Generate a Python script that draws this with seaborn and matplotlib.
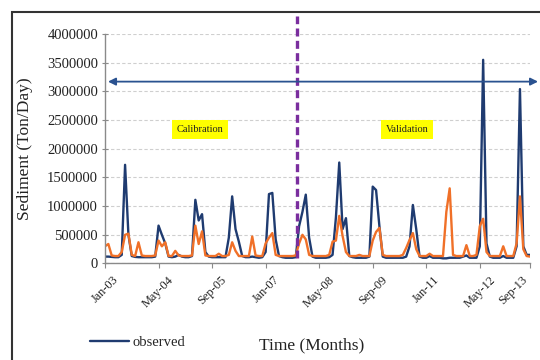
import numpy as np
import pandas as pd
import matplotlib
matplotlib.use("Agg")
import matplotlib.pyplot as plt
import seaborn as sns
from matplotlib.patches import Rectangle

# ---- data (Ton/Day), one value per month starting Jan-03 ----
observed = [
    120, 120, 115, 110, 110, 150, 1720, 500, 130, 115, 110, 110,        # 2003
    110, 110, 110, 120, 660, 500, 350, 120, 110, 120, 150, 120,         # 2004
    110, 110, 130, 1110, 750, 860, 200, 120, 110, 110, 110, 110,        # 2005
    110, 450, 1170, 600, 380, 130, 110, 110, 120, 110, 100, 110,        # 2006
    200, 1210, 1230, 420, 130, 110, 100, 100, 100, 110, 650, 900,       # 2007
    1200, 450, 120, 100, 100, 100, 100, 110, 150, 800, 1760, 600,       # 2008
    790, 130, 110, 100, 100, 100, 100, 120, 1340, 1280, 650, 120,       # 2009
    100, 100, 100, 100, 100, 100, 120, 300, 1020, 600, 120, 100,        # 2010
    100, 130, 100, 100, 100, 90, 90, 100, 100, 100, 100, 120,           # 2011
    140, 100, 100, 100, 300, 3550, 350, 120, 100, 100, 100, 130,        # 2012
    100, 100, 100, 300, 3040, 300, 150, 150,                            # 2013
]
observed = [v * 1000 for v in observed]

simulated = [
    300, 340, 140, 130, 130, 200, 500, 520, 150, 130, 370, 140,         # 2003
    130, 130, 130, 140, 400, 300, 370, 130, 130, 220, 140, 130,         # 2004
    130, 130, 140, 660, 340, 560, 140, 130, 130, 130, 170, 130,         # 2005
    130, 150, 370, 220, 130, 130, 130, 130, 470, 140, 130, 130,         # 2006
    350, 450, 530, 150, 130, 130, 130, 130, 130, 140, 350, 500,         # 2007
    420, 150, 130, 130, 130, 130, 130, 150, 380, 400, 830, 480,         # 2008
    200, 130, 130, 130, 150, 130, 130, 130, 400, 550, 620, 150,         # 2009
    130, 130, 130, 130, 130, 150, 270, 410, 530, 250, 130, 130,         # 2010
    130, 170, 130, 130, 130, 130, 900, 1310, 150, 130, 130, 130,        # 2011
    320, 130, 130, 150, 650, 780, 200, 130, 130, 130, 130, 300,         # 2012
    130, 130, 130, 350, 1170, 250, 130, 120,                            # 2013
]
simulated = [v * 1000 for v in simulated]

tick_labels = ["Jan-03", "May-04", "Sep-05", "Jan-07", "May-08",
               "Sep-09", "Jan-11", "May-12", "Sep-13"]
tick_months = [0, 16, 32, 48, 64, 80, 96, 112, 127]
y_ticks = [0, 500000, 1000000, 1500000, 2000000, 2500000,
           3000000, 3500000, 4000000]
region_labels = ["Calibration", "Validation"]
region_label_months = [28.5, 90.3]
region_label_level = 2335000
split_month = 57.3
arrow_level = 3170000

# ---- style ----
sns.set_style("white")
plt.rcParams["font.family"] = ["Liberation Serif", "DejaVu Serif"]

OBS_C = "#1F3B70"
SIM_C = "#F07028"
AX_C = "#8A8A8A"

fig = plt.figure(figsize=(5.4, 3.6), dpi=100)
ax = fig.add_axes([0.19444, 0.26806, 0.78704, 0.6375])

month = np.arange(len(observed))
df = pd.DataFrame({
    "month": np.concatenate([month, np.arange(len(simulated))]),
    "sediment": observed + simulated,
    "series": ["observed"] * len(observed) + ["simulated"] * len(simulated),
})
sns.lineplot(data=df, x="month", y="sediment", hue="series",
             palette={"observed": OBS_C, "simulated": SIM_C},
             linewidth=1.7, legend=False, estimator=None, ax=ax)

ax.set_xlim(0, 127)
ax.set_ylim(0, 4000000)

ax.set_yticks(y_ticks)
ax.set_yticklabels([f"{v:d}" for v in y_ticks])
ax.set_xticks(tick_months)
ax.set_xticklabels(tick_labels, rotation=45, ha="center")
# the label at the right edge is right-aligned so it stays inside the picture
ax.get_xticklabels()[-1].set_horizontalalignment("right")

ax.yaxis.grid(True, color="#CFCFCF", linestyle=(0, (3, 2)), linewidth=0.8)
ax.xaxis.grid(False)
for s in ["top", "right"]:
    ax.spines[s].set_visible(False)
for s in ["left", "bottom"]:
    ax.spines[s].set_color(AX_C)
    ax.spines[s].set_linewidth(1.0)

ax.tick_params(axis="y", left=True, direction="inout", length=5, width=0.8,
               color=AX_C, labelsize=10.5, pad=2.5, labelcolor="#222222")
ax.tick_params(axis="x", bottom=True, direction="out", length=3.5, width=0.8,
               color=AX_C, labelsize=8.8, pad=4, labelcolor="#222222")

ax.set_ylabel("Sediment (Ton/Day)", fontsize=12.5, color="#222222")
ax.yaxis.set_label_coords(-0.17, 0.5)
ax.set_xlabel("Time (Months)", fontsize=12.5, color="#222222")
ax.xaxis.set_label_coords(0.487, -0.322)

# calibration / validation split
ax.plot([split_month, split_month], [100000, 4310000], color="#7A2E9E",
        lw=2.4, linestyle=(0, (2.4, 1.3)), clip_on=False, zorder=5)

# double arrow spanning the record
ax.annotate("", xy=(129.4, arrow_level), xytext=(0.9, arrow_level),
            arrowprops=dict(arrowstyle="<|-|>", color="#2A5290", lw=1.3,
                            mutation_scale=11, shrinkA=0, shrinkB=0),
            annotation_clip=False, zorder=6)

for lab, m in zip(region_labels, region_label_months):
    ax.text(m, region_label_level, lab, ha="center", va="center",
            fontsize=7.5, color="#222222",
            bbox=dict(boxstyle="square,pad=0.45", facecolor="#FFFF00",
                      edgecolor="none"))

# legend (only the visible entry)
obs_line = ax.get_lines()[0]
ax.legend(handles=[obs_line], labels=["observed"], loc="center left",
          bbox_to_anchor=(0.1667, 0.05), bbox_transform=fig.transFigure,
          frameon=False, fontsize=10.5, handlelength=2.7,
          handletextpad=0.2, borderpad=0, borderaxespad=0)

# outer frame of the original figure
fig.patches.append(Rectangle((0.0222, -0.2), 1.3, 0.9667 + 0.2,
                             transform=fig.transFigure, fill=False,
                             edgecolor="#333333", lw=1.5))

fig.savefig("out.png", dpi=100)
